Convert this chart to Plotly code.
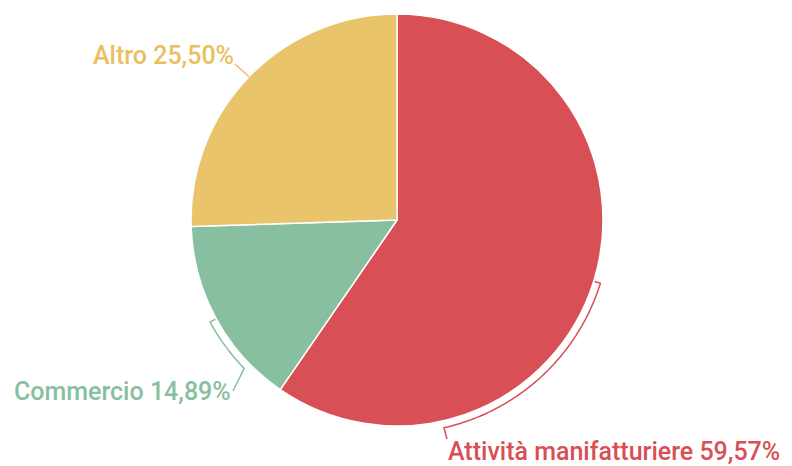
import math
import plotly.graph_objects as go

# ---- data ----
labels = ["Attività manifatturiere", "Commercio", "Altro"]
values = [59.57, 14.89, 25.50]
value_text = ["59,57%", "14,89%", "25,50%"]
colors = ["#D94F56", "#88BFA0", "#E9C46A"]
text_colors = ["#D94F56", "#88BFA0", "#E8C060"]

# ---- layout geometry (pixels, top-down, screen coords) ----
W, H = 792, 466
OFF = 8  # page body margin
CX, CY, R = 397, 220, 206
FONT = dict(family="Roboto, Arial, sans-serif", size=25, weight=500)

def px(x, y):
    return (x - OFF) / W, 1 - (y - OFF) / H

def pt(theta, r):
    t = math.radians(theta)
    return CX + r * math.sin(t), CY - r * math.cos(t)

total = sum(values)
mids = []
acc = 0.0
for v in values:
    mids.append(acc + v / total * 180)
    acc += v / total * 360

x0, y0 = px(CX - R, CY + R)
x1, y1 = px(CX + R, CY - R)

fig = go.Figure()
fig.add_trace(go.Pie(
    labels=labels, values=values, sort=False, direction="clockwise", rotation=0,
    marker=dict(colors=colors, line=dict(color="white", width=1.5)),
    textinfo="none", hoverinfo="label+percent", showlegend=False,
    domain=dict(x=[x0, x1], y=[y0, y1]),
))

# label placement: (anchor x, center y, xanchor)
label_pos = [(448, 451, "left"), (231, 391, "right"), (234, 55, "right")]
ROFF = R + 7

def path_from(points):
    s = []
    for i, (x, y) in enumerate(points):
        a, b = px(x, y)
        s.append(("M" if i == 0 else "L") + f"{a:.5f},{b:.5f}")
    return " ".join(s)

def bracket(mid, end_x, hook, sign):
    pts = [pt(mid, R + 1), pt(mid, ROFF)]
    th = mid
    while abs(th - mid) < 120:
        th += sign * 0.5
        x, y = pt(th, ROFF)
        pts.append((x, y))
        if (sign > 0 and x <= end_x) or (sign < 0 and x >= end_x):
            break
    pts.append(hook)
    return pts

red_pts = bracket(mids[0], 445, (447, 439), +1)
green_pts = bracket(mids[1], 243, (233, 391), -1)
yellow_pts = [pt(mids[2], R), (235, 64)]

shapes = []
for pts, c in [(red_pts, colors[0]), (green_pts, colors[1]), (yellow_pts, text_colors[2])]:
    shapes.append(dict(type="path", xref="paper", yref="paper", path=path_from(pts),
                       line=dict(color=c, width=1.5)))

annotations = []
for i, (x, y, xa) in enumerate(label_pos):
    ax, ay = px(x, y)
    annotations.append(dict(
        x=ax, y=ay, xref="paper", yref="paper", xanchor=xa, yanchor="middle",
        text=f"{labels[i]} {value_text[i]}", showarrow=False,
        borderpad=0, borderwidth=0,
        font=dict(color=text_colors[i], **FONT),
    ))

fig.update_layout(
    width=W, height=H, margin=dict(l=0, r=0, t=0, b=0),
    paper_bgcolor="white", plot_bgcolor="white",
    shapes=shapes, annotations=annotations,
)
fig.write_html("out.html")
